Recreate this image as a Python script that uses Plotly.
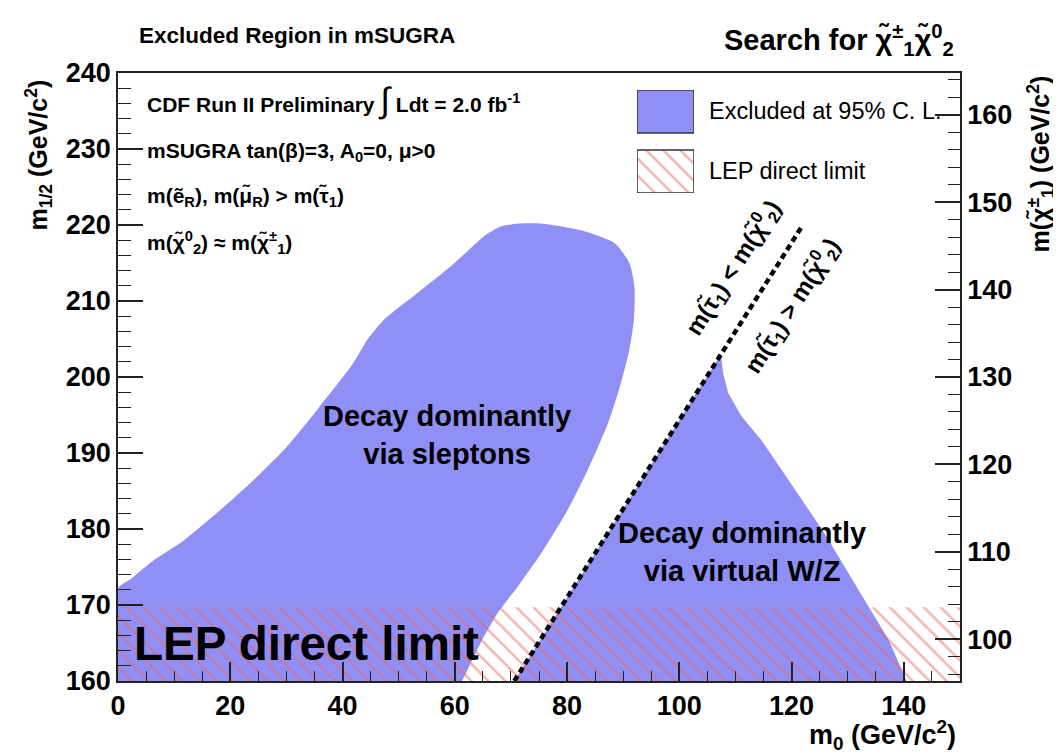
import plotly.graph_objects as go

# ---------------- data ----------------
# slepton-dominated excluded region (m0, m1/2)
slep_m0 = [0, 0, 2.4, 6.0, 11.9, 17.9, 23.8, 29.8, 35.7, 41.7, 44.6, 47.6, 53.6, 59.5, 65.5,
           68.2, 71.4, 75.4, 82.5, 88.5, 91.1, 92.0, 91.9, 91.1, 89.6, 87.3, 83.7, 80.1,
           75.4, 71.2, 67.6, 64.6, 61.3]
slep_m12 = [160, 172.2, 173.5, 175.7, 178.6, 182.3, 186.2, 190.6, 195.9, 201.6, 205.1, 207.7,
            211.2, 214.7, 218.7, 219.8, 220.2, 220.2, 219.3, 217.6, 215.0, 211.9, 207.5,
            203.6, 199.2, 193.9, 187.8, 182.5, 176.8, 172.4, 168.9, 165.0, 160]
# virtual W/Z dominated excluded region
wz_m0 = [70.6, 107.4, 107.8, 108.7, 111.1, 114.6, 118.2, 121.8, 125.9, 130.1, 133.7, 137.3, 140.5]
wz_m12 = [160, 203.0, 200.5, 197.9, 194.8, 191.7, 187.8, 183.8, 179.4, 174.2, 169.8, 165.4, 160]
# m(stau1) = m(chi2^0) boundary line
stau_m0 = [70.6, 122.0]
stau_m12 = [160, 220]
# LEP direct chargino limit (in m1/2)
lep_limit = 169.7
m0_range = [0, 150]
m12_range = [160, 240]
chi_range = [95.2, 164.8]

BLUE = "#8f8ff5"
HATCH = "#f06464"
FONT = "Liberation Sans"

# plot area in screen pixels (page has an 8px body margin)
OFF = 8
L, R, T, B = 118, 960, 73, 681
W, H = 1061 - OFF, 753 - OFF
def px(x):
    return (x - L) / (R - L)
def py(y):
    return (B - y) / (B - T)

fig = go.Figure()

fig.add_trace(go.Scatter(x=slep_m0, y=slep_m12, fill="toself", fillcolor=BLUE,
                         line=dict(width=0, shape="spline", smoothing=0.6), mode="lines",
                         hoverinfo="skip", showlegend=False))
fig.add_trace(go.Scatter(x=wz_m0, y=wz_m12, fill="toself", fillcolor=BLUE,
                         line=dict(width=0), mode="lines", hoverinfo="skip", showlegend=False))

lep_x = [m0_range[0], m0_range[1], m0_range[1], m0_range[0], m0_range[0]]
lep_y = [m12_range[0], m12_range[0], lep_limit, lep_limit, m12_range[0]]
fig.add_trace(go.Scatter(x=lep_x, y=lep_y, fill="toself", fillcolor="rgba(0,0,0,0)",
                         fillpattern=dict(shape="\\", fgcolor=HATCH, bgcolor="rgba(0,0,0,0)",
                                          size=12, solidity=0.2),
                         line=dict(width=0), mode="lines", hoverinfo="skip", showlegend=False))

fig.add_trace(go.Scatter(x=stau_m0, y=stau_m12, mode="lines",
                         line=dict(color="black", width=4.5, dash="6px,4px"),
                         hoverinfo="skip", showlegend=False))

# invisible trace for the right axis
fig.add_trace(go.Scatter(x=[m0_range[0]], y=[chi_range[0]], yaxis="y2", mode="markers",
                         marker=dict(opacity=0), hoverinfo="skip", showlegend=False))

# legend keys drawn on an auxiliary axis
key_x = [0, 1, 1, 0, 0]
fig.add_trace(go.Scatter(x=key_x, y=[0.583, 0.583, 1, 1, 0.583], xaxis="x3", yaxis="y3",
                         fill="toself", fillcolor=BLUE, mode="lines",
                         line=dict(color="#333333", width=1.5), hoverinfo="skip", showlegend=False))
fig.add_trace(go.Scatter(x=key_x, y=[0, 0, 0.417, 0.417, 0], xaxis="x3", yaxis="y3",
                         fill="toself", fillcolor="rgba(0,0,0,0)",
                         fillpattern=dict(shape="\\", fgcolor=HATCH, bgcolor="rgba(0,0,0,0)",
                                          size=12, solidity=0.2),
                         mode="lines", line=dict(color="#333333", width=1.5),
                         hoverinfo="skip", showlegend=False))

tickfont = dict(family=FONT, size=27, color="black", weight="bold")
axline = dict(showline=True, linecolor="#222222", linewidth=1.5, showgrid=False, zeroline=False)

fig.update_layout(
    width=W, height=H,
    margin=dict(l=L - OFF, r=W - (R - OFF), t=T - OFF, b=H - (B - OFF)),
    paper_bgcolor="white", plot_bgcolor="white",
    showlegend=False,
    xaxis=dict(range=m0_range, tick0=0, dtick=20, ticks="inside", ticklen=19, tickwidth=1.5,
               tickcolor="#222222", mirror=True, tickfont=tickfont,
               minor=dict(dtick=5, ticks="inside", ticklen=10, tickwidth=1.2, tickcolor="#222222"),
               **axline),
    yaxis=dict(range=m12_range, tick0=160, dtick=10, ticks="inside", ticklen=25, tickwidth=1.5,
               tickcolor="#222222", tickfont=tickfont,
               minor=dict(dtick=2, ticks="inside", ticklen=13, tickwidth=1.2, tickcolor="#222222"),
               **axline),
    yaxis2=dict(range=chi_range, overlaying="y", side="right", tick0=100, dtick=10,
                ticks="inside", ticklen=25, tickwidth=1.5, tickcolor="#222222", tickfont=tickfont,
                minor=dict(dtick=2, ticks="inside", ticklen=12, tickwidth=1.2, tickcolor="#222222"),
                **axline),
    xaxis3=dict(domain=[px(637), px(694)], anchor="y3", range=[0, 1], visible=False),
    yaxis3=dict(domain=[py(193), py(90)], anchor="x3", range=[0, 1], visible=False),
)

ann = []
def A(text, x, y, size, xanchor="left", yanchor="middle", bold=True, angle=0):
    ann.append(dict(text=text, x=x, y=y, xref="paper", yref="paper", xanchor=xanchor,
                    yanchor=yanchor, showarrow=False, textangle=angle,
                    font=dict(family=FONT, size=size, color="black",
                              weight="bold" if bold else "normal")))

tl = "\u0303"
A("Excluded Region in mSUGRA", px(137), py(35), 22.5)
A("Search for χ" + tl + "<sup>±</sup><sub>1</sub>χ" + tl + "<sup>0</sup><sub>2</sub>",
  px(956), py(40), 29, xanchor="right")

A("CDF Run II Preliminary <span style='font-size:35px;font-weight:normal'>∫</span> Ldt = 2.0 fb<sup>-1</sup>",
  px(145), py(100), 21)
A("mSUGRA tan(β)=3, A<sub>0</sub>=0, μ>0", px(145), py(152), 21)
A("m(ẽ<sub>R</sub>), m(μ" + tl + "<sub>R</sub>) > m(τ" + tl + "<sub>1</sub>)", px(145), py(197), 21)
A("m(χ" + tl + "<sup>0</sup><sub>2</sub>) ≈ m(χ" + tl + "<sup>±</sup><sub>1</sub>)", px(145), py(242), 21)

A("Excluded at 95% C. L.", px(707), py(111), 23.5, bold=False)
A("LEP direct limit", px(707), py(171), 23.5, bold=False)

A("Decay dominantly<br>via sleptons", px(447), py(435), 29, xanchor="center")
A("Decay dominantly<br>via virtual W/Z", px(742), py(552), 29, xanchor="center")
A("LEP direct limit", px(306), py(643), 47.5, xanchor="center")

A("m(τ" + tl + "<sub>1</sub>) < m(χ" + tl + "<sup>0</sup><sub>2</sub>)", px(733), py(268), 24,
  xanchor="center", angle=-57.5)
A("m(τ" + tl + "<sub>1</sub>) > m(χ" + tl + "<sup>0</sup><sub>2</sub>)", px(792), py(306), 24,
  xanchor="center", angle=-57.5)

# axis titles
A("m<sub>1/2</sub> (GeV/c<sup>2</sup>)", px(38), py(78), 25, xanchor="center", yanchor="top", angle=-90)
A("m(χ" + tl + "<sup>±</sup><sub>1</sub>) (GeV/c<sup>2</sup>)", px(1040), py(74), 25,
  xanchor="center", yanchor="top", angle=-90)
A("m<sub>0</sub> (GeV/c<sup>2</sup>)", px(958), py(735), 27, xanchor="right")

fig.update_layout(annotations=ann)
fig.write_html("out.html")
